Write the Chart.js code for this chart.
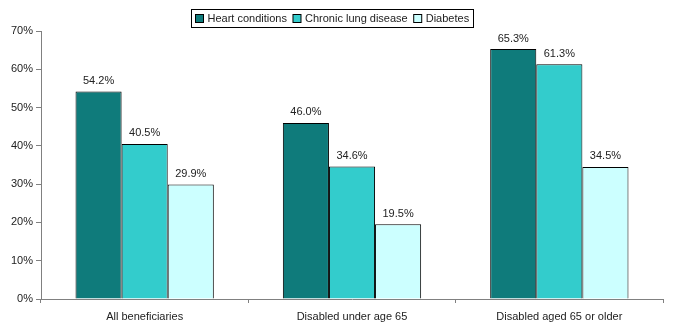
<!DOCTYPE html>
<html>
<head>
<meta charset="utf-8">
<script src="https://cdn.jsdelivr.net/npm/chart.js@4/dist/chart.umd.min.js"></script>
<style>
  html, body { margin: 0; padding: 0; background: #fff; }
  #wrap { width: 673px; height: 331px; position: relative; }
</style>
</head>
<body>
<div id="wrap"><canvas id="chart"></canvas></div>
<script>
// Chronic condition prevalence by beneficiary group (percent)
const groups = ['All beneficiaries', 'Disabled under age 65', 'Disabled aged 65 or older'];
const seriesNames = ['Heart conditions', 'Chronic lung disease', 'Diabetes'];
const heartValues = [54.2, 46.0, 65.3];
const lungValues = [40.5, 34.6, 61.3];
const diabetesValues = [29.9, 19.5, 34.5];
const yTicks = [0, 10, 20, 30, 40, 50, 60, 70];

const fills = ['#0f7b7b', '#33cccc', '#ccffff'];
const FONT = "'Liberation Sans', Arial, sans-serif";

Chart.defaults.font.family = FONT;
Chart.defaults.font.size = 11;
Chart.defaults.color = '#222';

// value text above each bar
const barLabels = {
    id: 'barLabels',
    afterDatasetsDraw(chart) {
        const ctx = chart.ctx;
        ctx.save();
        ctx.font = '11px ' + FONT;
        ctx.fillStyle = '#222';
        ctx.textAlign = 'center';
        ctx.textBaseline = 'bottom';
        chart.data.datasets.forEach((ds, i) => {
            chart.getDatasetMeta(i).data.forEach((bar, j) => {
                ctx.fillText(ds.data[j].toFixed(1) + '%', bar.x, bar.y - 5);
            });
        });
        ctx.restore();
    }
};

// boxed legend across the top
const boxLegend = {
    id: 'boxLegend',
    afterDraw(chart) {
        const ctx = chart.ctx;
        ctx.save();
        ctx.font = '11px ' + FONT;
        const sq = 8, gapText = 4, gapItem = 6, pad = 4;
        const widths = seriesNames.map(n => ctx.measureText(n).width);
        let total = pad * 2;
        widths.forEach((w, i) => { total += sq + gapText + w + (i ? gapItem : 0); });
        const cx = 332;
        const left = Math.round(cx - total / 2) + 0.5;
        const top = 9.5, h = 18;
        ctx.strokeStyle = '#000';
        ctx.lineWidth = 1;
        ctx.strokeRect(left, top, Math.round(total), h);
        let x = left + pad;
        ctx.textBaseline = 'middle';
        ctx.textAlign = 'left';
        seriesNames.forEach((n, i) => {
            if (i) x += gapItem;
            ctx.fillStyle = fills[i];
            ctx.fillRect(x, top + 5, sq, sq);
            ctx.strokeRect(x, top + 5, sq, sq);
            x += sq + gapText;
            ctx.fillStyle = '#222';
            ctx.fillText(n, x, top + h / 2 + 0.5);
            x += widths[i];
        });
        ctx.restore();
    }
};

const seriesData = [heartValues, lungValues, diabetesValues];

new Chart(document.getElementById('chart'), {
    type: 'bar',
    data: {
        labels: groups,
        datasets: seriesNames.map((name, i) => ({
            label: name,
            data: seriesData[i],
            backgroundColor: fills[i],
            borderColor: '#000',
            borderWidth: 1,
            borderSkipped: 'bottom',
            barPercentage: 1,
            categoryPercentage: 0.667
        }))
    },
    options: {
        responsive: true,
        maintainAspectRatio: false,
        animation: false,
        layout: { padding: { top: 31, right: 10, left: 0, bottom: 0 } },
        plugins: {
            legend: { display: false },
            tooltip: { enabled: false }
        },
        scales: {
            x: {
                grid: {
                    drawOnChartArea: false,
                    offset: true,
                    color: '#808080',
                    tickLength: 4
                },
                border: { color: '#808080' },
                ticks: { padding: 7, color: '#222', maxRotation: 0 },
                afterFit(scale) { scale.height = 32; }
            },
            y: {
                min: 0,
                max: 70,
                afterBuildTicks(scale) { scale.ticks = yTicks.map(v => ({ value: v })); },
                grid: {
                    drawOnChartArea: false,
                    color: '#808080',
                    tickLength: 5
                },
                border: { color: '#808080' },
                ticks: {
                    padding: 3,
                    color: '#222',
                    callback: v => v + '%'
                },
                afterFit(scale) { scale.width = 41; }
            }
        }
    },
    plugins: [barLabels, boxLegend]
});
</script>
</body>
</html>
